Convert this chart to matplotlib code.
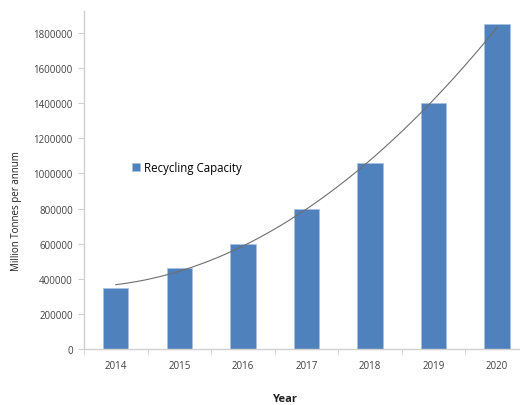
import numpy as np
import matplotlib
matplotlib.use("Agg")
import matplotlib.pyplot as plt

years = ["2014", "2015", "2016", "2017", "2018", "2019", "2020"]
capacity = [350000, 460000, 600000, 800000, 1060000, 1400000, 1850000]
y_ticks = [0, 200000, 400000, 600000, 800000, 1000000, 1200000, 1400000, 1600000, 1800000]

plt.rcParams['font.family'] = ['Open Sans', 'DejaVu Sans']

fig = plt.figure(figsize=(5.2, 4.06), dpi=100)
ax = fig.add_axes([0.1615, 0.138, 0.8555, 0.832])

x = np.arange(len(years))
ax.bar(x, capacity, width=0.4, color="#4f81bd", edgecolor="#a9c1e0", linewidth=0.6,
       label="Recycling Capacity", zorder=2)

# polynomial (order 2) trend line through the bars
coef = np.polyfit(x, capacity, 2)
xs = np.linspace(0, len(years) - 1, 200)
ax.plot(xs, np.polyval(coef, xs), color="#6e6e6e", linewidth=0.8, zorder=3)

ax.set_xlim(-0.5, len(years) - 0.5)
ax.set_ylim(0, 1925000)
ax.set_yticks(y_ticks)
ax.set_yticklabels([str(v) for v in y_ticks], fontsize=7, color="#404040")
ax.set_xticks(x)
ax.set_xticklabels(years, fontsize=7, color="#404040")
ax.tick_params(axis="x", length=0, pad=8)
ax.set_xticks(np.arange(-0.5, len(years)), minor=True)
ax.tick_params(axis="x", which="minor", length=4, color="#d0d0d0", direction="out")
ax.tick_params(axis="y", length=4, color="#d0d0d0", pad=4)

for side in ["top", "right"]:
    ax.spines[side].set_visible(False)
for side in ["left", "bottom"]:
    ax.spines[side].set_color("#d0d0d0")
    ax.spines[side].set_linewidth(1)

ax.set_ylabel("Million Tonnes per annum", fontsize=7, color="#202020")
ax.yaxis.set_label_coords(-0.14, 0.41)
ax.set_xlabel("Year", fontsize=8, fontweight="bold", color="#202020")
ax.xaxis.set_label_coords(0.451, -0.13)

ax.legend(loc="center left", bbox_to_anchor=(0.085, 0.536), frameon=False, fontsize=8.3,
          handlelength=0.7, handleheight=0.7, handletextpad=0.3)

fig.savefig("out.png", dpi=100)
